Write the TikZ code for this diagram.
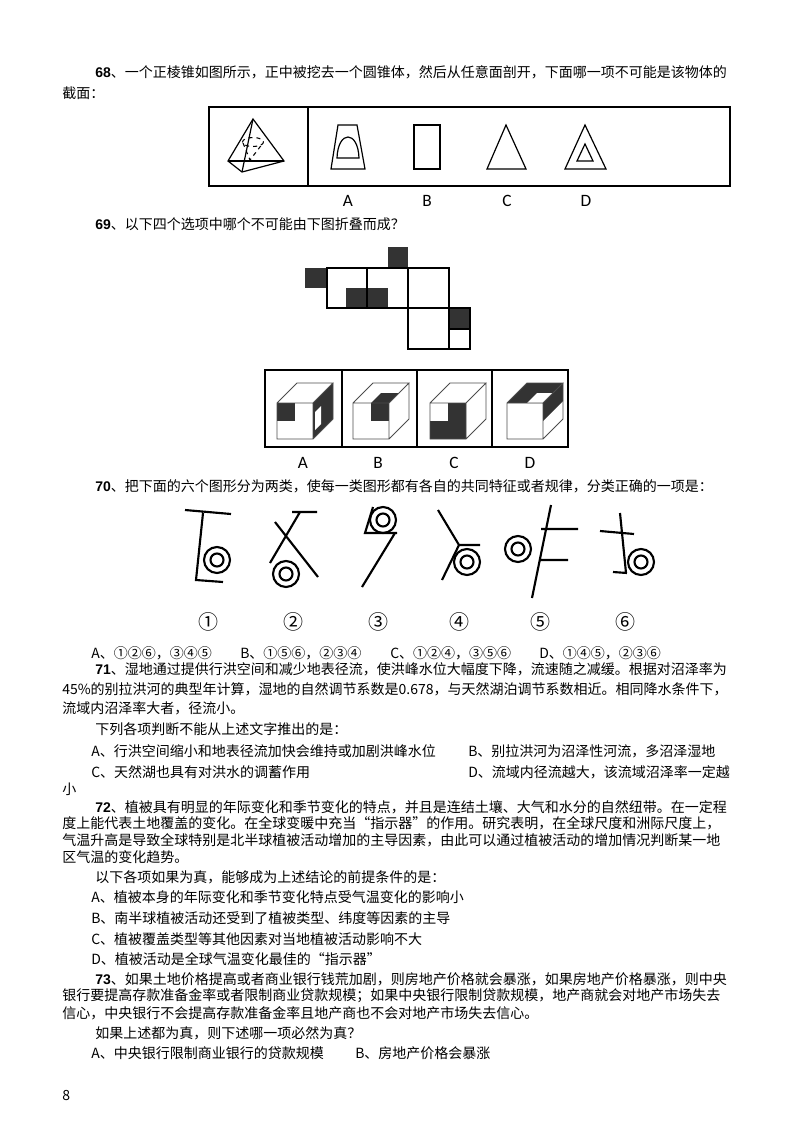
\documentclass[tikz,border=0pt]{standalone}
\usepackage{fontspec}
\setmainfont{Noto Sans CJK SC}
\newfontfamily\numf{Liberation Sans}
\newfontfamily\labf{Carlito}
\begin{document}
\begin{tikzpicture}[x=0.75pt,y=-0.75pt,
  txt/.style={anchor=west,inner sep=0pt,font=\fontsize{10.5pt}{12pt}\selectfont},
  lab/.style={inner sep=0pt,font=\labf\fontsize{13pt}{14pt}\selectfont},
  cir/.style={inner sep=0pt,font=\fontsize{15pt}{16pt}\selectfont},
  thk/.style={line width=1.6pt},
  cb/.style={draw=black!70,line width=0.6pt}]
\useasboundingbox (0,0) rectangle (800,1132);
\newcommand{\qn}[1]{{\numf\bfseries #1}}
% Q68
\node[txt] (t1) at (95,72) {\qn{68}、一个正棱锥如图所示，正中被挖去一个圆锥体，然后从任意面剖开，下面哪一项不可能是该物体的};
\node[txt] (t2) at (62,93) {截面：};
\draw[line width=1pt] (209,107) rectangle (730,186);
\draw[line width=1pt] (308,107) -- (308,186);
\draw[line width=0.9pt] (253,119) -- (228,161) -- (242,172) -- (284,161) -- cycle;
\draw[line width=0.9pt] (253,119) -- (242,172);
\draw[line width=0.9pt] (228,161) -- (284,161);
\draw[line width=0.8pt,dashed] (253,142) ellipse (10.5 and 4.5);
\draw[line width=0.8pt,dashed] (243,143) -- (250,160) -- (263,143);
\draw[line width=0.9pt] (338,125) -- (357,125) -- (365,169) -- (331,169) -- cycle;
\draw[line width=0.9pt] (337,158) .. controls (338,130) and (358,130) .. (359,158) -- cycle;
\draw[line width=0.9pt] (414,125) rectangle (440,169);
\draw[line width=0.9pt] (506,125) -- (487,169) -- (526,169) -- cycle;
\draw[line width=0.9pt] (585,125) -- (565,169) -- (606,169) -- cycle;
\draw[line width=0.9pt] (585,144) -- (577,161) -- (593,161) -- cycle;
\node[lab] (la) at (348,201) {A};
\node[lab] (lb) at (427,201) {B};
\node[lab] (lc) at (507,201) {C};
\node[lab] (ld) at (586,201) {D};
% Q69
\node[txt] (t3) at (95,224) {\qn{69}、以下四个选项中哪个不可能由下图折叠而成？};
\fill[black!80] (388,247) rectangle (408,268);
\fill[black!80] (305,268) rectangle (327,288);
\fill[black!80] (346,288) rectangle (388,308);
\fill[black!80] (449,308) rectangle (470,329);
\draw[line width=0.8pt] (327,268) rectangle (449,308);
\draw[line width=0.8pt] (367,268) -- (367,308) (408,268) -- (408,308);
\draw[line width=0.8pt] (408,308) rectangle (449,349);
\draw[line width=0.8pt] (449,308) rectangle (470,349);
\draw[line width=0.8pt] (449,329) -- (470,329);
\draw[line width=1.2pt] (265,370) rectangle (568,447);
\draw[line width=1.2pt] (342,370) -- (342,447) (417,370) -- (417,447) (492,370) -- (492,447);
% cube A
\fill[black!80] (313,403) -- (333,383) -- (333,419) -- (313,439) -- cycle;
\fill[white] (315,412) -- (321,406) -- (321,424) -- (315,430) -- cycle;
\fill[black!80] (277,403) rectangle (295,421);
\draw[cb] (277,403) rectangle (313,439) (277,403) -- (297,383) -- (333,383) -- (313,403) (333,383) -- (333,419) -- (313,439);
% cube B
\fill[black!80] (371,403) rectangle (389,421);
\fill[black!80] (371,403) -- (381,393) -- (399,393) -- (389,403) -- cycle;
\draw[cb] (353,403) rectangle (389,439) (353,403) -- (373,383) -- (409,383) -- (389,403) (409,383) -- (409,419) -- (389,439);
% cube C
\fill[black!80] (448,403) -- (466,403) -- (466,439) -- (430,439) -- (430,421) -- (448,421) -- cycle;
\draw[cb] (430,403) rectangle (466,439) (430,403) -- (450,383) -- (486,383) -- (466,403) (486,383) -- (486,419) -- (466,439);
% cube D
\fill[black!80] (507,403) -- (527,383) -- (563,383) -- (543,403) -- cycle;
\fill[white] (527,403) -- (537,393) -- (553,393) -- (543,403) -- cycle;
\fill[black!80] (543,403) -- (563,383) -- (563,401) -- (543,421) -- cycle;
\draw[cb] (507,403) rectangle (543,439) (507,403) -- (527,383) -- (563,383) -- (543,403) (563,383) -- (563,419) -- (543,439);
\node[lab] (lA) at (303,463) {A};
\node[lab] (lB) at (378,463) {B};
\node[lab] (lC) at (454,463) {C};
\node[lab] (lD) at (530,463) {D};
% Q70
\node[txt] (t4) at (95,486) {\qn{70}、把下面的六个图形分为两类，使每一类图形都有各自的共同特征或者规律，分类正确的一项是：};
\draw[thk] (185,510) -- (231,514) (203,513) -- (196,580) -- (223,582);
\draw[thk] (217,560) circle (13) (217,560) circle (6.5);
\draw[thk] (292,512) -- (317,512) (300,512) -- (270,563) (275,522) -- (318,577);
\draw[thk] (286,574) circle (13) (286,574) circle (6.5);
\draw[thk] (373,507) -- (365,533) -- (397,533) (395,533) -- (362,587);
\draw[thk] (383,520) circle (13) (383,520) circle (6.5);
\draw[thk] (438,510) -- (459,545) -- (480,545) (459,545) -- (442,580);
\draw[thk] (467,562) circle (13) (467,562) circle (6.5);
\draw[thk] (551,505) -- (532,598) (541,529) -- (578,529) (540,560) -- (568,560);
\draw[thk] (518,549) circle (13) (518,549) circle (6.5);
\draw[thk] (620,513) -- (626,573) (600,531) -- (634,534) (613,572) -- (627,573);
\draw[thk] (641,562) circle (13) (641,562) circle (6.5);
\node[cir] (c1) at (208,622) {①};
\node[cir] (c2) at (293,622) {②};
\node[cir] (c3) at (378,622) {③};
\node[cir] (c4) at (459,622) {④};
\node[cir] (c5) at (540,622) {⑤};
\node[cir] (c6) at (625,622) {⑥};
\node[txt] (o1) at (91,653) {A、①②⑥，③④⑤};
\node[txt] (o2) at (240,653) {B、①⑤⑥，②③④};
\node[txt] (o3) at (390,653) {C、①②④，③⑤⑥};
\node[txt] (o4) at (539,653) {D、①④⑤，②③⑥};
% Q71
\node[txt] (t5) at (95,669) {\qn{71}、湿地通过提供行洪空间和减少地表径流，使洪峰水位大幅度下降，流速随之减缓。根据对沼泽率为};
\node[txt] (t6) at (62,689) {45\%的别拉洪河的典型年计算，湿地的自然调节系数是0.678，与天然湖泊调节系数相近。相同降水条件下，};
\node[txt] (t7) at (62,708) {流域内沼泽率大者，径流小。};
\node[txt] (t8) at (95,729) {下列各项判断不能从上述文字推出的是：};
\node[txt] (t9) at (91,751) {A、行洪空间缩小和地表径流加快会维持或加剧洪峰水位};
\node[txt] (t10) at (468,751) {B、别拉洪河为沼泽性河流，多沼泽湿地};
\node[txt] (t11) at (91,772) {C、天然湖也具有对洪水的调蓄作用};
\node[txt] (t12) at (468,772) {D、流域内径流越大，该流域沼泽率一定越};
\node[txt] (t13) at (62,789) {小};
% Q72
\node[txt] (t14) at (95,807) {\qn{72}、植被具有明显的年际变化和季节变化的特点，并且是连结土壤、大气和水分的自然纽带。在一定程};
\node[txt] (t15) at (62,823) {度上能代表土地覆盖的变化。在全球变暖中充当“指示器”的作用。研究表明，在全球尺度和洲际尺度上，};
\node[txt] (t16) at (62,840) {气温升高是导致全球特别是北半球植被活动增加的主导因素，由此可以通过植被活动的增加情况判断某一地};
\node[txt] (t17) at (62,857) {区气温的变化趋势。};
\node[txt] (t18) at (95,877) {以下各项如果为真，能够成为上述结论的前提条件的是：};
\node[txt] (t19) at (91,897) {A、植被本身的年际变化和季节变化特点受气温变化的影响小};
\node[txt] (t20) at (91,918) {B、南半球植被活动还受到了植被类型、纬度等因素的主导};
\node[txt] (t21) at (91,939) {C、植被覆盖类型等其他因素对当地植被活动影响不大};
\node[txt] (t22) at (91,959) {D、植被活动是全球气温变化最佳的“指示器”};
% Q73
\node[txt] (t23) at (95,979) {\qn{73}、如果土地价格提高或者商业银行钱荒加剧，则房地产价格就会暴涨，如果房地产价格暴涨，则中央};
\node[txt] (t24) at (62,996) {银行要提高存款准备金率或者限制商业贷款规模；如果中央银行限制贷款规模，地产商就会对地产市场失去};
\node[txt] (t25) at (62,1013) {信心，中央银行不会提高存款准备金率且地产商也不会对地产市场失去信心。};
\node[txt] (t26) at (95,1033) {如果上述都为真，则下述哪一项必然为真？};
\node[txt] (t27) at (91,1053) {A、中央银行限制商业银行的贷款规模};
\node[txt] (t28) at (355,1053) {B、房地产价格会暴涨};
\node[txt] (pg) at (62,1095) {8};
\end{tikzpicture}
\end{document}
